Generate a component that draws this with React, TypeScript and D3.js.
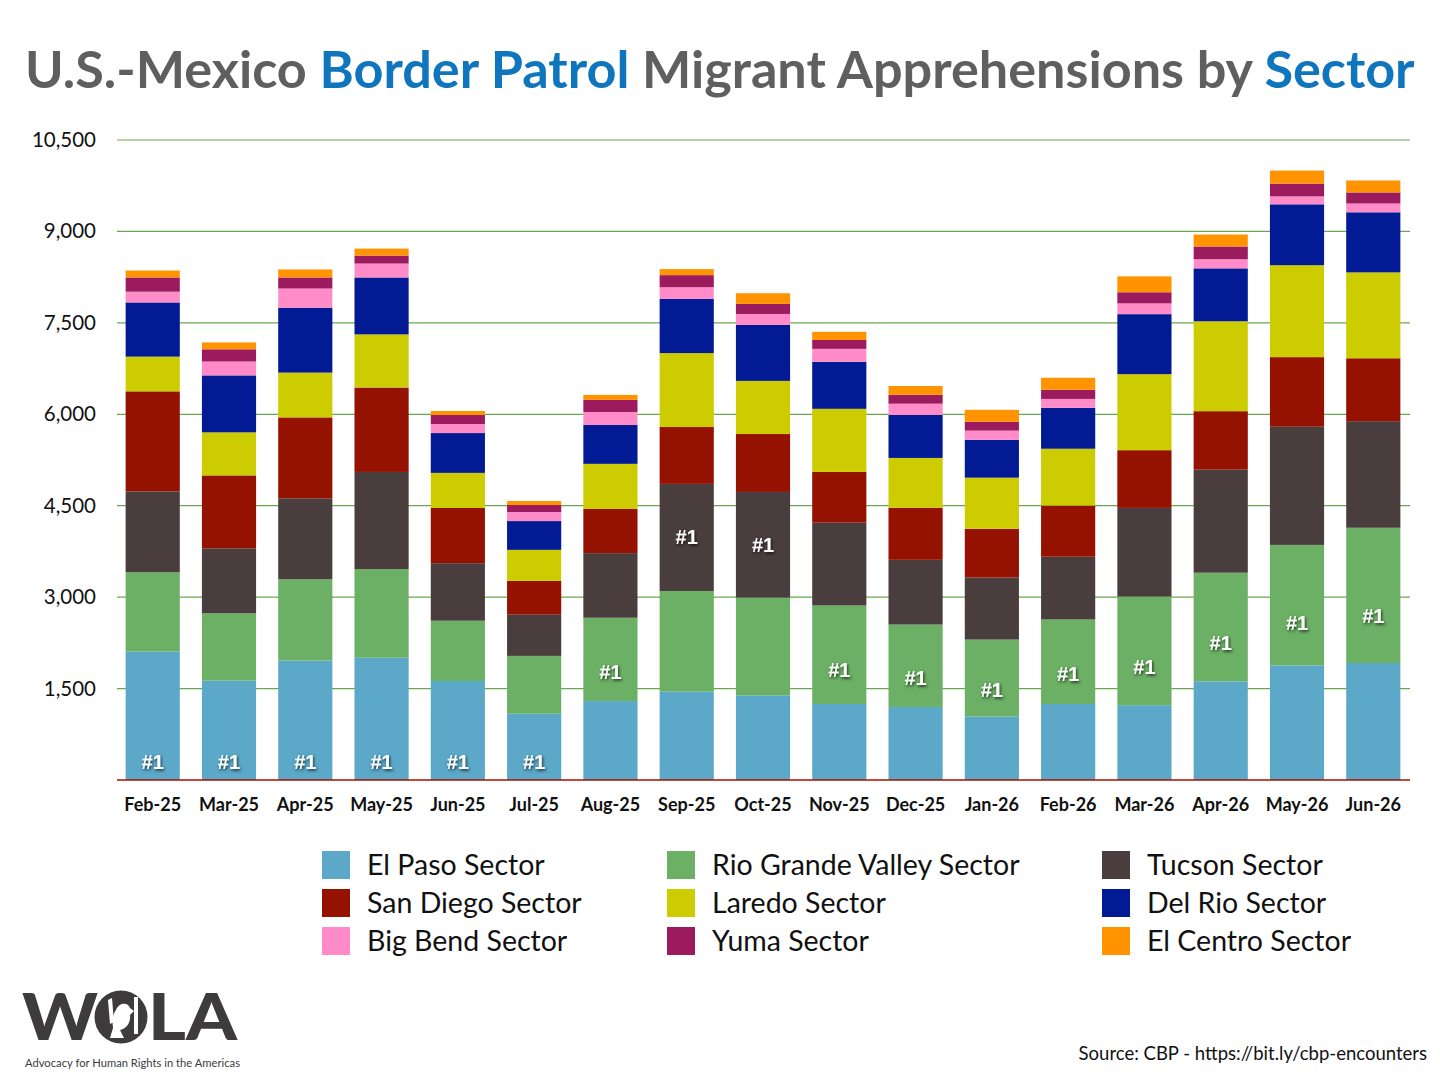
import { useEffect, useRef } from "react";
import * as d3 from "d3";

const months = ["Feb-25", "Mar-25", "Apr-25", "May-25", "Jun-25", "Jul-25", "Aug-25", "Sep-25", "Oct-25",
  "Nov-25", "Dec-25", "Jan-26", "Feb-26", "Mar-26", "Apr-26", "May-26", "Jun-26"];

const sectors = ["El Paso Sector", "Rio Grande Valley Sector", "Tucson Sector", "San Diego Sector",
  "Laredo Sector", "Del Rio Sector", "Big Bend Sector", "Yuma Sector", "El Centro Sector"];

const sectorColors = ["#5ba8c8", "#6bb064", "#4a3d3d", "#951100", "#cccc00", "#021a94", "#ff8cc8", "#9b1b5e", "#ff9300"];

// monthly apprehensions per sector
const elPaso = [2108, 1630, 1960, 2006, 1625, 1087, 1295, 1449, 1389, 1247, 1197, 1040, 1247, 1227, 1619, 1880, 1919];
const rioGrande = [1299, 1105, 1333, 1453, 988, 949, 1367, 1652, 1603, 1616, 1353, 1264, 1387, 1782, 1782, 1977, 2219];
const tucson = [1328, 1066, 1328, 1595, 944, 676, 1060, 1757, 1734, 1359, 1062, 1018, 1029, 1455, 1690, 1939, 1749];
const sanDiego = [1641, 1196, 1328, 1385, 906, 554, 724, 933, 950, 833, 856, 799, 839, 947, 960, 1142, 1032];
const laredo = [570, 707, 735, 872, 576, 510, 741, 1213, 872, 1035, 816, 839, 933, 1247, 1475, 1508, 1409];
const delRio = [889, 934, 1065, 934, 653, 472, 637, 889, 917, 771, 705, 621, 671, 985, 868, 999, 986];
const bigBend = [176, 228, 314, 228, 148, 148, 214, 192, 181, 213, 185, 151, 146, 176, 150, 130, 144];
const yuma = [234, 200, 182, 131, 148, 115, 198, 198, 165, 145, 145, 145, 151, 183, 209, 209, 182];
const elCentro = [114, 113, 131, 114, 66, 66, 82, 99, 175, 134, 145, 196, 196, 261, 196, 215, 196];

const series = [elPaso, rioGrande, tucson, sanDiego, laredo, delRio, bigBend, yuma, elCentro];

const yTicks = [1500, 3000, 4500, 6000, 7500, 9000, 10500];

export default function App() {
  const ref = useRef<SVGSVGElement | null>(null);

  useEffect(() => {
    document.body.style.margin = "0";
    const svg = d3.select(ref.current);
    svg.selectAll("*").remove();

    const W = 1440, H = 1080;
    const left = 117, right = 1410, top = 140, bottom = 780;

    const defs = svg.append("defs");
    const f = defs.append("filter").attr("id", "shadow").attr("x", "-50%").attr("y", "-50%")
      .attr("width", "200%").attr("height", "200%");
    f.append("feDropShadow").attr("dx", 1).attr("dy", 1.5).attr("stdDeviation", 1.4)
      .attr("flood-color", "#000").attr("flood-opacity", 0.75);

    svg.append("rect").attr("width", W).attr("height", H).attr("fill", "#fff");

    // Title
    const title = svg.append("text")
      .attr("x", 25).attr("y", 88)
      .style("font-family", "Lato, 'Open Sans', sans-serif")
      .style("font-weight", 700)
      .style("font-size", "54px");
    const parts: [string, string][] = [
      ["U.S.-Mexico ", "#5f5f5f"], ["Border Patrol", "#0f75bc"], [" Migrant Apprehensions by ", "#5f5f5f"], ["Sector", "#0f75bc"]
    ];
    parts.forEach(([t, c]) => title.append("tspan").attr("fill", c).text(t));
    const tl = (title.node() as SVGTextElement).getComputedTextLength();
    if (tl > 0) title.style("font-size", (54 * 1390 / tl) + "px");

    const x = d3.scaleBand<string>().domain(months).range([left + 1, right - 2]).paddingInner(0.29).paddingOuter(0.1);
    const y = d3.scaleLinear().domain([0, 10500]).range([bottom, top]);

    // gridlines + labels
    const grid = svg.append("g");
    grid.selectAll("line").data(yTicks).join("line")
      .attr("x1", left).attr("x2", right)
      .attr("y1", d => y(d)).attr("y2", d => y(d))
      .attr("stroke", "#6aa84f").attr("stroke-width", 1.2);
    grid.selectAll("text").data(yTicks).join("text")
      .attr("x", 96).attr("y", d => y(d) + 7)
      .attr("text-anchor", "end")
      .style("font-family", "Lato, sans-serif")
      .style("font-size", "20.5px")
      .attr("fill", "#111")
      .text(d => d3.format(",")(d));

    // stacked bars
    const rows = months.map((m, i) => {
      const r: any = { month: m };
      series.forEach((s, k) => r[k] = s[i]);
      return r;
    });
    const stack = d3.stack<any>().keys(series.map((_, k) => String(k)));
    const layers = stack(rows);

    svg.append("g").selectAll("g").data(layers).join("g")
      .attr("fill", (_, k) => sectorColors[k])
      .selectAll("rect").data(d => d).join("rect")
      .attr("x", d => x(d.data.month)!)
      .attr("width", x.bandwidth())
      .attr("y", d => y(d[1]))
      .attr("height", d => y(d[0]) - y(d[1]));

    // axis baseline
    svg.append("line").attr("x1", left).attr("x2", right).attr("y1", bottom).attr("y2", bottom)
      .attr("stroke", "#a31200").attr("stroke-width", 1.5);

    // "#1" labels on the largest sector of each month
    const tops = months.map((m, i) => {
      let best = 0;
      series.forEach((s, k) => { if (s[i] > series[best][i]) best = k; });
      const seg = layers[best][i];
      let cy: number;
      if (best === 0) cy = bottom - 18;
      else {
        const h = y(seg[0]) - y(seg[1]);
        cy = (y(seg[0]) + y(seg[1])) / 2 + (best === 1 ? h * 0.15 : 0);
      }
      return { m, cy };
    });
    svg.append("g").selectAll("text").data(tops).join("text")
      .attr("x", d => x(d.m)! + x.bandwidth() / 2)
      .attr("y", d => d.cy + 7)
      .attr("text-anchor", "middle")
      .attr("fill", "#fff")
      .attr("filter", "url(#shadow)")
      .style("font-family", "'Liberation Sans', Arial, sans-serif")
      .style("font-weight", 700)
      .style("font-size", "20px")
      .text("#1");

    // month labels
    svg.append("g").selectAll("text").data(months).join("text")
      .attr("x", d => x(d)! + x.bandwidth() / 2)
      .attr("y", 811)
      .attr("text-anchor", "middle")
      .attr("fill", "#111")
      .style("font-family", "Lato, sans-serif")
      .style("font-weight", 700)
      .style("font-size", "18px")
      .text(d => d);

    // legend
    const colX = [322, 667, 1102];
    const rowY = [865, 903, 941];
    const lg = svg.append("g").selectAll("g").data(sectors).join("g")
      .attr("transform", (_, i) => `translate(${colX[i % 3]},${rowY[Math.floor(i / 3)]})`);
    lg.append("rect").attr("x", 0).attr("y", -14).attr("width", 28).attr("height", 28)
      .attr("fill", (_, i) => sectorColors[i]);
    lg.append("text").attr("x", 45).attr("y", 10)
      .attr("fill", "#111")
      .style("font-family", "Lato, sans-serif")
      .style("font-size", "28.5px")
      .text(d => d);

    // source
    svg.append("text").attr("x", 1427).attr("y", 1060).attr("text-anchor", "end")
      .attr("fill", "#111")
      .style("font-family", "Lato, sans-serif")
      .style("font-size", "18.5px")
      .text("Source: CBP - https://bit.ly/cbp-encounters");

    // WOLA logo
    const logo = svg.append("g").attr("fill", "#3d3b3c");
    logo.append("text").attr("x", 22).attr("y", 1040)
      .attr("textLength", 76).attr("lengthAdjust", "spacingAndGlyphs")
      .style("font-family", "Lato, sans-serif").style("font-weight", 900).style("font-size", "64px")
      .text("W");
    logo.append("circle").attr("cx", 121).attr("cy", 1017).attr("r", 26.5);
    logo.append("text").attr("x", 148).attr("y", 1040)
      .attr("textLength", 89).attr("lengthAdjust", "spacingAndGlyphs")
      .style("font-family", "Lato, sans-serif").style("font-weight", 900).style("font-size", "64px")
      .text("LA");
    const bird = logo.append("g").attr("fill", "#fff");
    bird.append("path").attr("d", "M108,1000 L112,998 L114,1022 L110,1024 Z");
    bird.append("path").attr("d", "M134,997 L138,997 L138,1034 L134,1034 Z");
    bird.append("path").attr("d", "M116,1010 C119,1002 128,1002 130,1008 L134,1011 L130,1015 C131,1023 126,1029 120,1030 L124,1038 L110,1038 L113,1028 C112,1020 113,1014 116,1010 Z");
    logo.append("text").attr("x", 25).attr("y", 1067)
      .attr("textLength", 215).attr("lengthAdjust", "spacingAndGlyphs")
      .style("font-family", "Lato, sans-serif").style("font-size", "11.5px")
      .text("Advocacy for Human Rights in the Americas");
  }, []);

  return <svg ref={ref} width={1440} height={1080} style={{ display: "block" }} />;
}
